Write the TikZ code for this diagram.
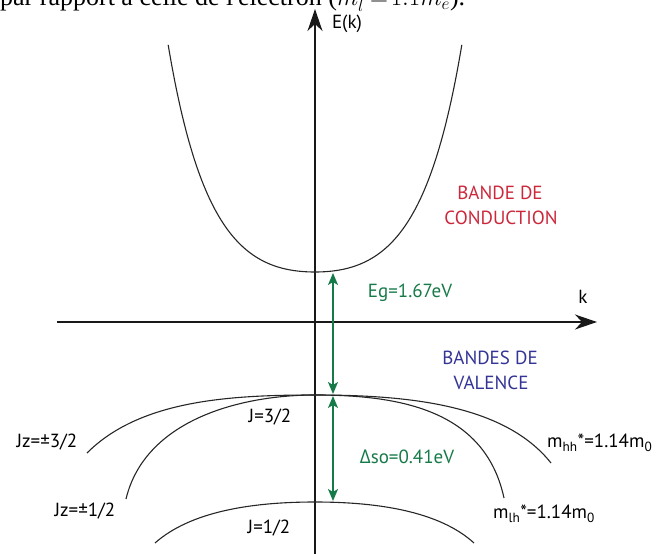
\documentclass[tikz,border=0pt]{standalone}
\usepackage{fontspec}
\setmainfont{PT Sans}
\newfontfamily\serifcut{Liberation Serif}
\newfontfamily\grk{Open Sans}
\usetikzlibrary{arrows.meta}
\definecolor{gapgreen}{RGB}{22,122,72}
\definecolor{condred}{RGB}{204,40,60}
\definecolor{valblue}{RGB}{52,52,150}
\tikzset{
  band/.style={line width=1.1pt, black!85},
  axisline/.style={line width=1.5pt, black!90},
  gaparrow/.style={line width=1.5pt, gapgreen, {Stealth[length=12pt,width=10pt,inset=3pt]}-{Stealth[length=12pt,width=10pt,inset=3pt]}},
  lbl/.style={font=\fontsize{19}{22}\selectfont, inner sep=0pt},
}
\begin{document}
\begin{tikzpicture}[x=1pt,y=-1pt]
\useasboundingbox (0,0) rectangle (665,554);
% cut-off line of text above the figure
\node[anchor=base west, inner sep=0pt, font=\serifcut\fontsize{26}{30}\selectfont] (cuttext) at (0,5.5) {par rapport à celle de l'électron ($m_l^*\!=\!1.1m_e$).};
% coordinates
\coordinate (origin) at (315,322);
\coordinate (ybot) at (315,560);
\coordinate (ytop) at (315,9);
\coordinate (xleft) at (57,322);
\coordinate (xright) at (597,322);
\coordinate (cbmin) at (315,272);
\coordinate (vbtop) at (315,395);
\coordinate (sotop) at (315,502);
\coordinate (egtop) at (333,273);
\coordinate (egbot) at (333,394);
\coordinate (sotopA) at (333,396);
\coordinate (sobotA) at (333,501);
% axes
\draw[axisline, -{Stealth[length=22pt,width=15pt,inset=7pt]}] (ybot) -- (ytop);
\draw[axisline, -{Stealth[length=22pt,width=15pt,inset=7pt]}] (xleft) -- (xright);
% conduction band
\draw[band] plot[domain=-15.07:15.07, samples=121, smooth, variable=\s]
  ({315 + \s/(0.053+0.0033*abs(\s))}, {272-\s*\s});
% heavy hole band
\draw[band] (87,453) .. controls (140,400) and (230,395) .. (vbtop)
            .. controls (410,395) and (505,405) .. (551,463);
% light hole band
\draw[band] (126,499) .. controls (145,420) and (240,395) .. (vbtop)
            .. controls (400,395) and (485,410) .. (504,498);
% split-off band
\draw[band] (155,543) .. controls (190,512) and (250,502) .. (sotop)
            .. controls (380,502) and (440,512) .. (474,543);
% gap arrows
\draw[gaparrow] (egtop) -- (egbot);
\draw[gaparrow] (sotopA) -- (sobotA);
% labels
\node[lbl] (ek) at (347,24) {E(k)};
\node[lbl] (klbl) at (583,297) {k};
\node[lbl, text=gapgreen] (eg) at (410,293) {Eg=1.67eV};
\node[lbl, text=gapgreen] (dso) at (407,457) {{\grk Δ}so=0.41eV};
\node[lbl, text=condred, align=center] (cond1) at (500,193) {BANDE DE};
\node[lbl, text=condred, align=center] (cond2) at (501,218) {CONDUCTION};
\node[lbl, text=valblue] (val1) at (490,358) {BANDES DE};
\node[lbl, text=valblue] (val2) at (491,383) {VALENCE};
\node[lbl] (j32) at (270,417) {J=3/2};
\node[lbl] (j12) at (269,528) {J=1/2};
\node[lbl] (jz32) at (47,442) {Jz=±3/2};
\node[lbl] (jz12) at (85,511) {Jz=±1/2};
\node[lbl, anchor=west] (mhh) at (547,443) {m\textsubscript{hh}*=1.14m\textsubscript{0}};
\node[lbl, anchor=west] (mlh) at (493,514) {m\textsubscript{lh}*=1.14m\textsubscript{0}};
\end{tikzpicture}
\end{document}
